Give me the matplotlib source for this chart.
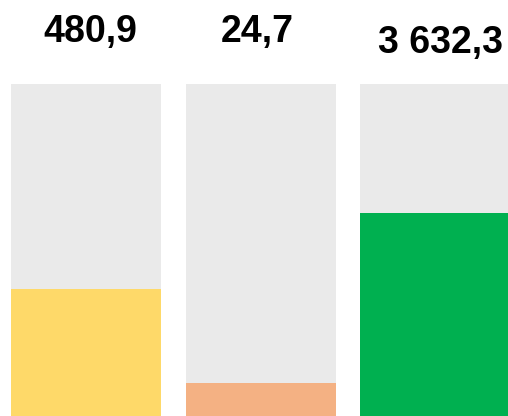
import matplotlib
matplotlib.use('Agg')
import matplotlib.pyplot as plt

# values and fill share of each gauge
labels = ['480,9', '24,7', '3 632,3']
fill_share = [0.383, 0.10, 0.612]
colors = ['#FED969', '#F4B183', '#00B050']
label_center_px = [90, 257, 441]   # label centres from the left
label_baseline_px = [42, 42, 53]   # label baselines from the top

W, H = 508, 416
fig = plt.figure(figsize=(W / 100, H / 100), dpi=100)
ax = fig.add_axes([0, 0, 1, 332 / H])

x = range(len(labels))
ax.bar(x, [1] * len(labels), width=0.86, color='#EAEAEA')
ax.bar(x, fill_share, width=0.86, color=colors)
ax.set_xlim(-0.493, 2.418)
ax.set_ylim(0, 1)
ax.axis('off')

for lab, xc, yb in zip(labels, label_center_px, label_baseline_px):
    fig.text(xc / W, 1 - yb / H, lab, ha='center', va='baseline',
             fontsize=27, fontweight='bold', family='Liberation Sans')

fig.savefig('out.png', dpi=100)
